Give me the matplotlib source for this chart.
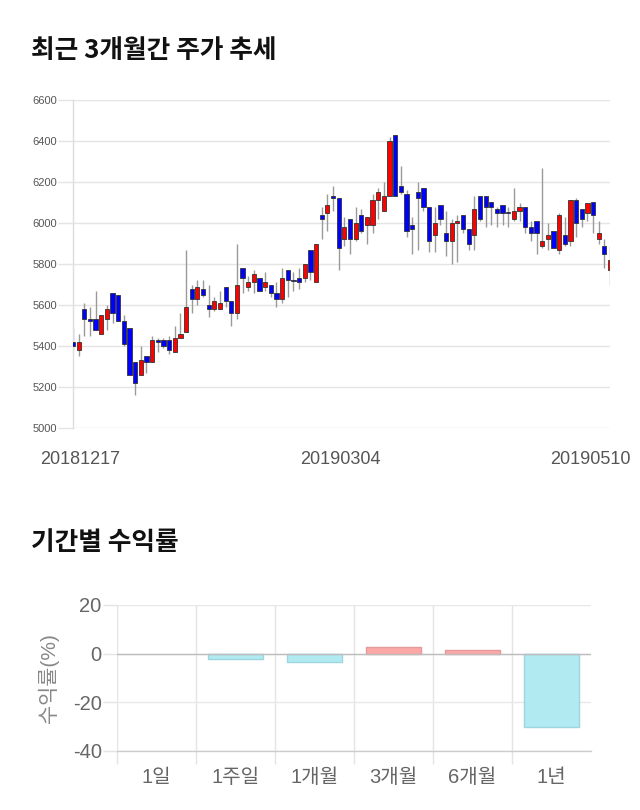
import matplotlib
matplotlib.use("Agg")
import matplotlib.pyplot as plt
import numpy as np

plt.rcParams['font.family'] = ['Liberation Sans', 'Noto Sans CJK KR', 'DejaVu Sans']

# ---- data: candlesticks (recent 3 months) ----
opens = [5420, 5380, 5580, 5530, 5530, 5460, 5530, 5660, 5650, 5520,
         5490, 5320, 5260, 5350, 5320, 5430, 5430, 5430, 5370, 5440,
         5470, 5680, 5630, 5680, 5600, 5580, 5580, 5690, 5620, 5560,
         5780, 5690, 5710, 5730, 5690, 5700, 5660, 5630, 5770, 5722,
         5730, 5730, 5870, 5710, 6040, 6050, 6130, 6120, 5920, 6020,
         5920, 6040, 5990, 5990, 6110, 6060, 6130, 6430, 6180, 6140,
         5990, 6150, 6170, 6080, 5940, 6090, 5950, 5910, 6000, 6040,
         5970, 5940, 6130, 6130, 6100, 6070, 6090, 6054, 6020, 6060,
         6080, 5980, 6010, 5890, 5920, 5960, 5870, 5940, 5910, 6110,
         6070, 6050, 6100, 5920, 5890, 5770]
highs = [5490, 5460, 5610, 5590, 5670, 5550, 5600, 5660, 5650, 5550,
         5490, 5320, 5400, 5350, 5450, 5440, 5440, 5450, 5500, 5560,
         5870, 5700, 5720, 5720, 5700, 5640, 5670, 5690, 5620, 5900,
         5780, 5740, 5770, 5730, 5760, 5700, 5710, 5780, 5770, 5760,
         5780, 5800, 5870, 5900, 6080, 6140, 6180, 6120, 6030, 6020,
         6080, 6070, 6030, 6140, 6170, 6200, 6420, 6430, 6280, 6160,
         6030, 6200, 6170, 6080, 6080, 6090, 6060, 6020, 6040, 6040,
         5970, 6130, 6130, 6130, 6100, 6080, 6090, 6080, 6170, 6100,
         6080, 6010, 6010, 6270, 6000, 5960, 6050, 6030, 6110, 6120,
         6070, 6100, 6100, 6010, 5920, 5890]
lows = [5380, 5350, 5450, 5450, 5480, 5460, 5480, 5510, 5520, 5400,
        5260, 5160, 5260, 5270, 5320, 5370, 5390, 5360, 5370, 5440,
        5470, 5560, 5600, 5640, 5540, 5570, 5580, 5590, 5500, 5530,
        5660, 5670, 5660, 5670, 5670, 5640, 5590, 5610, 5640, 5670,
        5680, 5710, 5720, 5710, 5920, 5960, 6060, 5770, 5890, 5850,
        5910, 5950, 5900, 5950, 6020, 6060, 6130, 6130, 6140, 5930,
        5850, 5870, 6060, 5860, 5860, 5990, 5840, 5800, 5810, 5950,
        5870, 5870, 6010, 5980, 5990, 5980, 5990, 5980, 6010, 6010,
        5950, 5910, 5850, 5880, 5870, 5880, 5850, 5890, 5890, 5930,
        5980, 6010, 5950, 5900, 5780, 5700]
closes = [5400, 5420, 5530, 5520, 5480, 5550, 5580, 5560, 5520, 5410,
          5260, 5220, 5330, 5320, 5430, 5420, 5400, 5380, 5440, 5460,
          5590, 5630, 5690, 5650, 5580, 5620, 5610, 5620, 5560, 5700,
          5730, 5710, 5750, 5670, 5710, 5660, 5630, 5730, 5720, 5718,
          5710, 5800, 5760, 5900, 6020, 6090, 6120, 5880, 5980, 5920,
          6000, 5960, 6030, 6110, 6150, 6130, 6400, 6130, 6150, 5960,
          5970, 6120, 6080, 5910, 6000, 6020, 5910, 6000, 6010, 5970,
          5900, 6070, 6020, 6080, 6080, 6050, 6050, 6047, 6060, 6080,
          5980, 5950, 5950, 5910, 5940, 5880, 6040, 5900, 6110, 6000,
          6020, 6100, 6040, 5950, 5850, 5820]
date_labels = ['20181217', '20190304', '20190510']
price_ticks = [5000, 5200, 5400, 5600, 5800, 6000, 6200, 6400, 6600]

# ---- data: period returns ----
periods = ['1일', '1주일', '1개월', '3개월', '6개월', '1년']
returns = [0.0, -2.3, -3.3, 2.9, 1.7, -30.2]
return_ticks = [-40, -20, 0, 20]

W, H = 640, 810
fig = plt.figure(figsize=(W / 100, H / 100), dpi=100)
fig.patch.set_facecolor('white')

def fx(px):
    return px / W

def fy(py):
    return 1 - py / H

# ---- titles ----
fig.text(fx(31), fy(51), '최근 3개월간 주가 추세', fontsize=18.5, fontweight='bold',
         color='#111111', family=['Noto Sans CJK KR', 'DejaVu Sans'], ha='left', va='center')
fig.text(fx(31), fy(542), '기간별 수익률', fontsize=18.5, fontweight='bold',
         color='#111111', family=['Noto Sans CJK KR', 'DejaVu Sans'], ha='left', va='center')

# ---- candlestick chart ----
ax = fig.add_axes([fx(73), fy(428), (610 - 73) / W, (428 - 100) / H])
n = len(opens)
x = np.arange(n)
o = np.array(opens, float)
h = np.array(highs, float)
l = np.array(lows, float)
c = np.array(closes, float)
up = c >= o
body_col = np.where(up, '#ff0000', '#0000ff')
ax.vlines(x, l, h, color='#9a9a9a', linewidth=1.0, zorder=2)
bottoms = np.minimum(o, c)
heights = np.maximum(np.abs(c - o), 6)
ax.bar(x, heights, bottom=bottoms, width=0.75, color=body_col,
       edgecolor='#333333', linewidth=0.6, zorder=3)
ax.set_xlim(0, n - 1)
ax.set_ylim(5000, 6600)
ax.set_yticks(price_ticks)
ax.set_yticklabels([str(t) for t in price_ticks])
ax.grid(axis='y', color='#e4e4e4', linewidth=1.0, zorder=0)
ax.set_axisbelow(True)
ax.tick_params(axis='y', length=11, width=1.0, color='#e4e4e4', pad=0.5,
               labelsize=8, labelcolor='#555555')
ax.tick_params(axis='x', length=0, labelbottom=False)
for s in ['top', 'right', 'bottom']:
    ax.spines[s].set_visible(False)
ax.spines['left'].set_color('#dddddd')
ax.spines['left'].set_linewidth(1.0)

# date labels under the chart
fig.text(fx(80), fy(459), date_labels[0], fontsize=13, color='#555555', ha='center', va='center')
fig.text(fx(340), fy(459), date_labels[1], fontsize=13, color='#555555', ha='center', va='center')
fig.text(fx(590), fy(459), date_labels[2], fontsize=13, color='#555555', ha='center', va='center')

# ---- returns bar chart ----
bx = fig.add_axes([fx(117), fy(751), (591 - 117) / W, (751 - 605) / H])
pos = np.arange(len(periods))
rv = np.array(returns)
fills = np.where(rv >= 0, '#ffa8a8', '#b2eaf2')
edges = np.where(rv >= 0, '#e39a9a', '#9ed6df')
lws = np.where(rv == 0, 0.0, 1.0)
bx.bar(pos, rv, width=0.69, color=fills, edgecolor=edges, linewidth=lws, zorder=3)
bx.set_xlim(-0.5, len(periods) - 0.5)
bx.set_ylim(-40, 20)
bx.set_yticks(return_ticks)
bx.set_yticklabels([str(t) for t in return_ticks])
bx.set_xticks(pos)
bx.set_xticklabels(periods)
bx.set_xticks(np.arange(-0.5, len(periods) - 0.5, 1.0), minor=True)
bx.grid(axis='y', color='#e8e8e8', linewidth=1.0, zorder=0)
bx.grid(axis='x', which='minor', color='#e4e4e4', linewidth=1.0, zorder=0)
bx.grid(axis='x', which='major', visible=False)
bx.axhline(0, color='#bdbdbd', linewidth=1.0, zorder=4)
bx.set_axisbelow(True)
bx.tick_params(axis='x', which='major', length=0, pad=12, labelsize=14.5, labelcolor='#666666')
bx.tick_params(axis='x', which='minor', length=9, width=1.0, color='#e4e4e4')
bx.tick_params(axis='y', length=10, width=1.0, color='#e4e4e4', pad=1,
               labelsize=14.5, labelcolor='#666666')
for s in ['top', 'right', 'left']:
    bx.spines[s].set_visible(False)
bx.spines['bottom'].set_color('#cccccc')
bx.spines['bottom'].set_linewidth(1.0)
bx.set_ylabel('수익률(%)', fontsize=15, color='#888888', labelpad=10)

fig.savefig('out.png', dpi=100, facecolor='white')
